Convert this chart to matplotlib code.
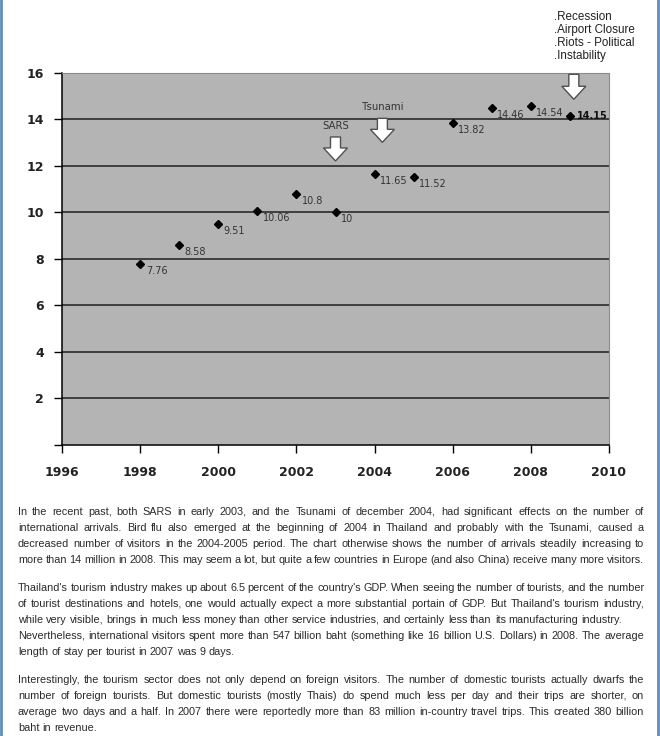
#import packages
import matplotlib
matplotlib.use("Agg")
import matplotlib.pyplot as plt
import matplotlib.transforms as mtransforms
from matplotlib.patches import Polygon
from matplotlib.lines import Line2D

#data: international arrivals to Thailand (millions)
years = [1998, 1999, 2000, 2001, 2002, 2003, 2004, 2005, 2006, 2007, 2008, 2009]
arrivals = [7.76, 8.58, 9.51, 10.06, 10.8, 10, 11.65, 11.52, 13.82, 14.46, 14.54, 14.15]
labels = ["7.76", "8.58", "9.51", "10.06", "10.8", "10", "11.65", "11.52", "13.82", "14.46", "14.54", "14.15"]

xticks = [1996, 1998, 2000, 2002, 2004, 2006, 2008, 2010]
yticks = [0, 2, 4, 6, 8, 10, 12, 14, 16]
ytick_labels = ["", "2", "4", "6", "8", "10", "12", "14", "16"]
grid_levels = [2, 4, 6, 8, 10, 12, 14]

#events marked with arrows (label, year, value at arrow tip)
event_names = ["SARS", "Tsunami"]
event_years = [2003.0, 2004.2]
event_tips = [12.2, 13.0]
crisis_year = 2009.1
crisis_tip = 14.85
crisis_text = ".Recession\n.Airport Closure\n.Riots - Political\n.Instability"

paragraphs = [
    [("In the recent past, both SARS in early 2003, and the Tsunami of december 2004, had significant effects on the number of", True),
     ("international arrivals. Bird flu also emerged at the beginning of 2004 in Thailand and probably with the Tsunami, caused a", True),
     ("decreased number of visitors in the 2004-2005 period. The chart otherwise shows the number of arrivals steadily increasing to", True),
     ("more than 14 million in 2008. This may seem a lot, but quite a few countries in Europe (and also China) receive many more visitors.", True)],
    [("Thailand's tourism industry makes up about 6.5 percent of the country's GDP. When seeing the number of tourists, and the number", True),
     ("of tourist destinations and hotels, one would actually expect a more substantial portain of GDP. But Thailand's tourism industry,", True),
     ("while very visible, brings in much less money than other service industries, and certainly less than its manufacturing industry.", False),
     ("Nevertheless, international visitors spent more than 547 billion baht (something like 16 billion U.S. Dollars) in 2008. The average", True),
     ("length of stay per tourist in 2007 was 9 days.", False)],
    [("Interestingly, the tourism sector does not only depend on  foreign visitors. The number of domestic tourists actually dwarfs the", True),
     ("number of foreign tourists. But domestic tourists (mostly Thais) do spend much less per day and their trips are shorter, on", True),
     ("average two days and a half. In 2007 there were reportedly more than 83 million in-country travel trips. This created 380 billion", True),
     ("baht in revenue.", False)],
]

W, H = 660, 736
fig = plt.figure(figsize=(W / 100, H / 100), dpi=100)
fig.patch.set_facecolor("white")

#page borders
for xb in [1, 658]:
    fig.add_artist(Line2D([xb / W, xb / W], [0, 1], transform=fig.transFigure, color="#5f8fb8", lw=2))

ax = fig.add_axes([62 / W, 1 - 445 / H, (609 - 62) / W, (445 - 72.5) / H])
ax.set_facecolor("#b4b4b4")
ax.set_xlim(1996, 2010)
ax.set_ylim(0, 16)

ax.hlines(grid_levels, 1996, 2010, colors="#1e1e1e", lw=1.1, zorder=1)

for side in ["left", "bottom"]:
    ax.spines[side].set_color("black")
    ax.spines[side].set_linewidth(1.1)
for side in ["top", "right"]:
    ax.spines[side].set_color("#8c8c8c")
    ax.spines[side].set_linewidth(0.8)

ax.set_xticks(xticks)
ax.set_xticklabels([str(x) for x in xticks], fontsize=9, fontweight="bold", color="#222222")
ax.set_yticks(yticks)
ax.set_yticklabels(ytick_labels, fontsize=9, fontweight="bold", color="#222222")
ax.tick_params(axis="x", length=6, width=1, pad=9, color="black")
ax.tick_params(axis="y", length=6, width=1, pad=7, color="black")

#block arrows, shape in inches relative to the tip
def block_arrow(x, y, shaft_h=0.11, clip=True):
    verts = [(0, 0), (-0.12, 0.13), (-0.05, 0.13), (-0.05, 0.13 + shaft_h),
             (0.05, 0.13 + shaft_h), (0.05, 0.13), (0.12, 0.13)]
    trans = fig.dpi_scale_trans + mtransforms.ScaledTranslation(x, y, ax.transData)
    p = Polygon(verts, closed=True, transform=trans, facecolor="white",
                edgecolor="#505050", lw=1, zorder=3, clip_on=clip)
    ax.add_patch(p)

for name, ex, ey in zip(event_names, event_years, event_tips):
    block_arrow(ex, ey)
    ax.annotate(name, (ex, ey), xytext=(0, 25.5), textcoords="offset points",
                ha="center", va="center", fontsize=7.3, color="#333333")

block_arrow(crisis_year, crisis_tip, shaft_h=0.12, clip=False)
fig.text(554 / W, 1 - 11.5 / H, crisis_text, ha="left", va="top", fontsize=8.4,
         family="Liberation Sans", color="#222222", linespacing=1.1)

#points and value labels
ax.plot(years, arrivals, ls="none", marker="D", ms=3.8, color="black", zorder=4)
for x, y, lab in zip(years[:-1], arrivals[:-1], labels[:-1]):
    ax.annotate(lab, (x, y), xytext=(4, -5), textcoords="offset points",
                ha="left", va="center", fontsize=7, color="#333333")
ax.annotate(labels[-1], (years[-1], arrivals[-1]), xytext=(5, 0), textcoords="offset points",
            ha="left", va="center", fontsize=7, fontweight="bold", color="#111111")

#text paragraphs below the chart, justified word by word
renderer = fig.canvas.get_renderer()
text_kw = dict(fontsize=7.85, family="Liberation Sans", color="#2a2a2a", va="center", ha="left")
x_left, x_right = 18, 644
t1 = fig.text(0, 0, "a a", **text_kw)
t2 = fig.text(0, 0, "aa", **text_kw)
space_w = t1.get_window_extent(renderer).width - t2.get_window_extent(renderer).width
t1.remove()
t2.remove()

y = 511.7
for para in paragraphs:
    for line, justify in para:
        words = line.split()
        texts = [fig.text(0, 1 - y / H, w, **text_kw) for w in words]
        widths = [t.get_window_extent(renderer).width for t in texts]
        if justify and len(words) > 1:
            gap = (x_right - x_left - sum(widths)) / (len(words) - 1)
        else:
            gap = space_w
        xp = x_left
        for t, w in zip(texts, widths):
            t.set_x(xp / W)
            xp += w + gap
        y += 16
    y += 12

fig.savefig("out.png", dpi=100)
